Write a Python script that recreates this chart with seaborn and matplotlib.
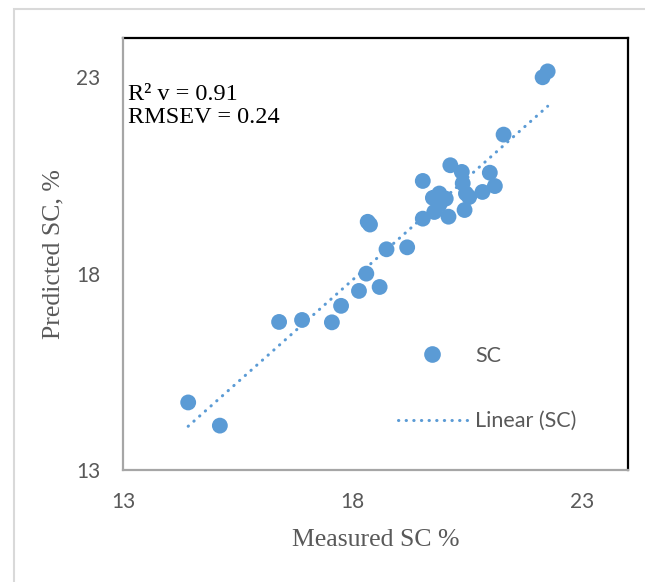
import matplotlib
matplotlib.use("Agg")
import matplotlib.pyplot as plt
import seaborn as sns
import pandas as pd
from matplotlib.patches import Rectangle
from matplotlib.lines import Line2D

measured = [14.42, 15.11, 16.40, 16.90, 17.55, 17.75, 18.14, 18.30, 18.59, 18.33,
            18.38, 18.74, 19.19, 19.53, 19.53, 19.78, 19.75, 19.89, 20.03, 20.09,
            20.13, 20.38, 20.40, 20.47, 20.54, 20.44, 20.83, 20.99, 21.10, 21.29,
            22.14, 22.25, 19.89]
predicted = [14.72, 14.13, 16.77, 16.82, 16.76, 17.18, 17.56, 18.00, 17.66, 19.32,
             19.25, 18.62, 18.67, 20.36, 19.40, 19.57, 19.93, 20.04, 19.91, 19.45,
             20.76, 20.59, 20.30, 20.04, 19.95, 19.62, 20.08, 20.57, 20.23, 21.54,
             23.00, 23.15, 19.75]
x_ticks = [13, 18, 23]
y_ticks = [13, 18, 23]
stats_text = ["R² v = 0.91", "RMSEV = 0.24"]
legend_labels = ["SC", "Linear (SC)"]

df = pd.DataFrame({"Measured": measured, "Predicted": predicted})

sns.set_style("white")
plt.rcParams["font.family"] = ["DejaVu Sans"]

W, H = 645, 582
fig = plt.figure(figsize=(W / 100, H / 100), dpi=100)
ax = fig.add_axes([123 / W, 1 - 470 / H, (628 - 123) / W, (470 - 38) / H])

blue = "#5B9BD5"
gray_txt = "#595959"

sns.regplot(data=df, x="Measured", y="Predicted", ax=ax, ci=None, truncate=True,
            scatter_kws=dict(s=130, color=blue, edgecolor="none", alpha=1, zorder=3),
            line_kws=dict(color=blue, lw=2.2, linestyle=(0, (0.1, 2.4)),
                          dash_capstyle="round", zorder=2))

ax.set_xlim(13, 24)
ax.set_ylim(13, 24)
ax.set_xticks(x_ticks)
ax.set_yticks(y_ticks)
tick_font = dict(family=["Lato", "DejaVu Sans"], size=15, color=gray_txt)
ax.set_xticklabels([str(t) for t in x_ticks], **tick_font)
ax.set_yticklabels([str(t) for t in y_ticks], **tick_font)
ax.tick_params(axis="both", direction="in", length=5, width=1, color="#A6A6A6")
ax.tick_params(axis="x", pad=16)
ax.tick_params(axis="y", pad=16.5)

for s in ["top", "right"]:
    ax.spines[s].set_color("black")
    ax.spines[s].set_linewidth(1.6)
for s in ["left", "bottom"]:
    ax.spines[s].set_color("#A6A6A6")
    ax.spines[s].set_linewidth(1.6)
    ax.spines[s].set_zorder(5)

serif = ["Liberation Serif", "DejaVu Serif"]
ax.set_xlabel("Measured SC %", family=serif, size=18.5, color=gray_txt, labelpad=12)
ax.set_ylabel("Predicted SC, %", family=serif, size=18.5, color=gray_txt, labelpad=8)

ax.text(0.01, 0.842, stats_text[0] + "\n" + stats_text[1], transform=ax.transAxes,
        family=serif, size=17.5, color="black", va="center", ha="left", linespacing=1.15)

handles = [Line2D([], [], marker="o", linestyle="none", color=blue, markersize=12,
                  markeredgewidth=0),
           Line2D([], [], color=blue, lw=2.2, linestyle=(0, (0.1, 2.4)),
                  dash_capstyle="round")]
leg = ax.legend(handles, legend_labels, loc="upper left",
                bbox_to_anchor=(398 / W, 1 - 346 / H), bbox_transform=fig.transFigure,
                frameon=False, borderpad=0, borderaxespad=0, handlelength=3.2,
                handletextpad=0.37, labelspacing=2.1,
                prop=dict(family=["Lato", "DejaVu Sans"], size=15.5))
for t in leg.get_texts():
    t.set_color(gray_txt)

fig.add_artist(Rectangle((14 / W, -0.1), 2, 1.1 - 9 / H, transform=fig.transFigure,
                         fill=False, edgecolor="#D9D9D9", lw=1.5))

fig.savefig("out.png", dpi=100, facecolor="white")
